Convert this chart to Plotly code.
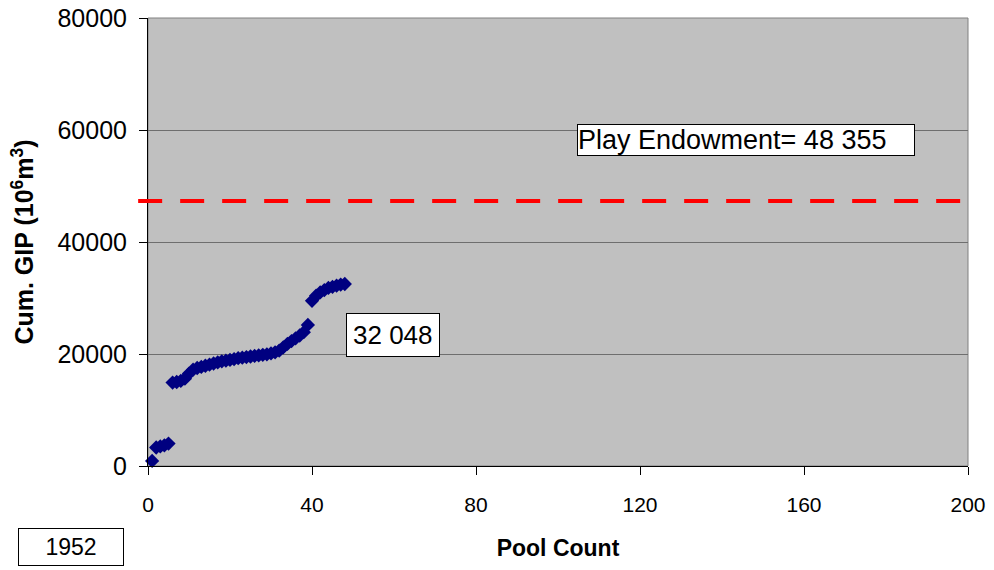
import plotly.graph_objects as go

pool_count = list(range(1, 49))
cum_gip = [900, 3300, 3500, 3700, 4000, 14900, 15000, 15200, 15600, 16500,
           17200, 17500, 17700, 17900, 18100, 18300, 18500, 18700, 18800, 18950,
           19100, 19250, 19350, 19450, 19550, 19650, 19750, 19850, 19950, 20100,
           20300, 20600, 21200, 21800, 22300, 22800, 23300, 23900, 25200, 29500,
           30400, 31000, 31400, 31800, 32000, 32200, 32400, 32500]
endowment_level = 47300
endowment_label = "Play Endowment= 48 355"
final_label = "32 048"
year_label = "1952"
x_ticks = [0, 40, 80, 120, 160, 200]
y_ticks = [0, 20000, 40000, 60000, 80000]
y_tick_text = ["0", "20000", "40000", "60000", "80000"]

FONT = "Liberation Sans, Arial, sans-serif"

fig = go.Figure()
fig.add_trace(go.Scatter(
    x=pool_count, y=cum_gip, mode="markers",
    marker=dict(symbol="diamond", size=11, color="#000080", line=dict(width=0)),
    showlegend=False, cliponaxis=False,
))

fig.add_shape(type="rect", xref="paper", yref="paper", x0=0, x1=1, y0=0, y1=1,
              line=dict(color="#808080", width=1), fillcolor="rgba(0,0,0,0)", layer="below")
fig.add_shape(type="line", xref="paper", yref="y", x0=-0.012, x1=1,
              y0=endowment_level, y1=endowment_level,
              line=dict(color="#FF0000", width=4, dash="24px,18px"))

fig.add_annotation(x=104.6, y=58200, xref="x", yref="y", text=endowment_label,
                   showarrow=False, xanchor="left", yanchor="middle", align="left",
                   width=336, font=dict(family=FONT, size=27, color="black"),
                   bgcolor="white", bordercolor="black", borderwidth=1, borderpad=0)
fig.add_annotation(x=59.8, y=23480, xref="x", yref="y", text=final_label,
                   showarrow=False, xanchor="center", yanchor="middle",
                   font=dict(family=FONT, size=26, color="black"),
                   bgcolor="white", bordercolor="black", borderwidth=1, borderpad=6)
fig.add_annotation(x=-0.0939, y=-0.1808, xref="paper", yref="paper", text=year_label,
                   showarrow=False, xanchor="center", yanchor="middle",
                   width=94, font=dict(family=FONT, size=23, color="black"),
                   bgcolor="white", bordercolor="black", borderwidth=1, borderpad=5)

fig.update_layout(
    width=994, height=570,
    margin=dict(l=148, r=26, t=18, b=104, autoexpand=False),
    paper_bgcolor="white", plot_bgcolor="#C0C0C0",
    font=dict(family=FONT, color="black"),
    xaxis=dict(range=[0, 200], tickvals=x_ticks, ticks="outside", ticklen=8,
               tickcolor="black", showline=True, linecolor="black", linewidth=1,
               showgrid=False, zeroline=False, tickfont=dict(size=21),
               ticklabelstandoff=12, ticklabeloverflow="allow",
               title=dict(text="<b>Pool Count</b>", font=dict(size=23), standoff=24)),
    yaxis=dict(range=[0, 80000], tickvals=y_ticks, ticktext=y_tick_text,
               ticks="outside", ticklen=8,
               tickcolor="black", showline=True, linecolor="black", linewidth=1,
               showgrid=True, gridcolor="#6E6E6E", gridwidth=1, zeroline=False,
               tickfont=dict(size=25), ticklabelstandoff=7, ticklabeloverflow="allow",
               title=dict(text="<b>Cum. GIP (10<sup>6</sup>m<sup>3</sup>)</b>",
                          font=dict(size=25), standoff=16)),
)

fig.write_html("out.html", config={"displayModeBar": False},
               post_script="document.body.style.margin='0';")
